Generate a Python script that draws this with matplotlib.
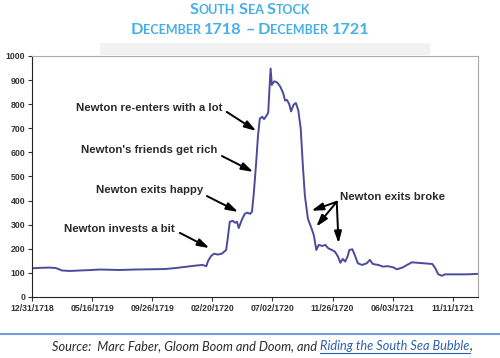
import matplotlib.pyplot as plt
from matplotlib.patches import Rectangle
from matplotlib.lines import Line2D

# x positions in tick intervals (0 = 12/31/1718, 1 = 05/16/1719, ...)
period = [
    0.00, 0.13, 0.30, 0.40, 0.50, 0.63, 0.80, 0.98, 1.13, 1.30,
    1.46, 1.71, 1.96, 2.21, 2.38, 2.55, 2.71, 2.83, 2.90, 2.93,
    2.98, 3.03, 3.09, 3.16, 3.23, 3.26, 3.29, 3.34, 3.38, 3.41,
    3.44, 3.49, 3.54, 3.58, 3.63, 3.66, 3.69, 3.73, 3.76, 3.79,
    3.83, 3.86, 3.89, 3.93, 3.95, 3.97, 3.99, 4.03, 4.08, 4.13,
    4.18, 4.21, 4.24, 4.28, 4.31, 4.35, 4.39, 4.43, 4.47, 4.51,
    4.54, 4.59, 4.65, 4.69, 4.73, 4.77, 4.83, 4.88, 4.93, 4.99,
    5.04, 5.09, 5.13, 5.17, 5.21, 5.25, 5.28, 5.33, 5.37, 5.42,
    5.49, 5.57, 5.62, 5.67, 5.76, 5.84, 5.92, 6.01, 6.07, 6.16,
    6.24, 6.32, 6.41, 6.51, 6.66, 6.71, 6.76, 6.82, 6.87, 7.07,
    7.24, 7.42,
]
price = [
    119, 121, 122, 120, 110, 108, 110, 112, 114, 113,
    112, 114, 115, 116, 120, 125, 130, 133, 128, 150,
    170, 180, 176, 180, 195, 250, 312, 316, 308, 312,
    286, 320, 345, 350, 345, 354, 430, 560, 670, 740,
    748, 738, 748, 765, 860, 948, 880, 895, 890, 873,
    845, 815, 818, 800, 770, 797, 805, 775, 700, 530,
    420, 325, 285, 255, 195, 216, 212, 216, 202, 195,
    188, 168, 142, 158, 147, 168, 195, 198, 174, 140,
    133, 140, 154, 137, 133, 126, 128, 123, 115, 122,
    133, 144, 142, 140, 137, 119, 94, 88, 94, 94,
    94, 96,
]

tick_labels = [
    "12/31/1718", "05/16/1719", "09/26/1719", "02/20/1720",
    "07/02/1720", "11/26/1720", "06/03/1721", "11/11/1721",
]

# (text, text position, arrow tail, arrow heads)
notes = [
    ("Newton re-enters with a lot", (1.95, 784), (3.24, 768), [(3.73, 689)]),
    ("Newton's friends get rich", (1.955, 610), (3.16, 585), [(3.68, 519)]),
    ("Newton exits happy", (1.96, 444), (2.91, 419), [(3.43, 353)]),
    ("Newton invests a bit", (1.46, 282), (2.46, 266), [(2.95, 203)]),
]
broke_text = "Newton exits broke"
broke_pos = (5.12, 415)
broke_tail = (5.07, 395)
broke_heads = [(4.65, 358), (4.73, 292), (5.10, 223)]

title_blue = "#46aeea"
line_color = "#4b4b9e"

fig = plt.figure(figsize=(5, 3.58), dpi=100)
ax = fig.add_axes([0.064, 0.1704, 0.892, 0.6732])

# light band above the plot (from the original screenshot)
fig.add_artist(Rectangle((0.2, 0.845), 0.66, 0.035, transform=fig.transFigure,
                         facecolor="#f2f2f2", edgecolor="none", zorder=-1))

ax.plot(period, price, color=line_color, linewidth=1.4)

ax.set_xlim(0, 7.42)
ax.set_ylim(0, 1000)
ax.set_xticks(range(len(tick_labels)))
ax.set_xticklabels(tick_labels)
ax.set_yticks(range(0, 1001, 100))

for lab in ax.get_xticklabels() + ax.get_yticklabels():
    lab.set_fontfamily("Liberation Sans")
    lab.set_fontweight("bold")
    lab.set_fontsize(6.3)
    lab.set_color("#333333")

ax.tick_params(axis="both", length=3, width=0.8, color="#333333", pad=2)
ax.spines["left"].set_color("#222222")
ax.spines["bottom"].set_color("#222222")
ax.spines["top"].set_color("#aaaaaa")
ax.spines["right"].set_color("#aaaaaa")

note_style = dict(fontfamily="Liberation Sans", fontweight="bold",
                  fontsize=8.2, color="#2a2a2a")
arrow_style = dict(arrowstyle="-|>,head_length=0.7,head_width=0.22",
                   color="black", lw=1.4, mutation_scale=10,
                   shrinkA=0, shrinkB=0)

for text, pos, tail, heads in notes:
    ax.text(pos[0], pos[1], text, ha="center", va="center", **note_style)
    for head in heads:
        ax.annotate("", xy=head, xytext=tail, arrowprops=arrow_style)

ax.text(broke_pos[0], broke_pos[1], broke_text, ha="left", va="center",
        **note_style)
for head in broke_heads:
    ax.annotate("", xy=head, xytext=broke_tail, arrowprops=arrow_style)

# title with small caps built from pieces
renderer = fig.canvas.get_renderer()
fig_w = fig.get_figwidth() * fig.dpi


def place_runs(runs, y, center=None, left=None):
    texts = []
    widths = []
    for s, kw in runs:
        t = fig.text(0, y, s, ha="left", va="baseline", **kw)
        bb = t.get_window_extent(renderer)
        texts.append(t)
        widths.append(bb.width / fig_w)
    total = sum(widths)
    x = center - total / 2 if center is not None else left
    out = []
    for t, w in zip(texts, widths):
        t.set_x(x)
        out.append((x, x + w))
        x += w
    return out


big = dict(fontfamily="Lato", fontweight="bold", fontsize=11.8, color=title_blue)
small = dict(fontfamily="Lato", fontweight="bold", fontsize=9.0, color=title_blue)
gap = dict(fontfamily="Lato", fontweight="bold", fontsize=6, color="none")


def small_caps(phrase):
    runs = []
    for i, word in enumerate(phrase.split(" ")):
        if i:
            runs.append(("\u2009|", gap))
        if word[0].isalpha():
            runs.append((word[0], big))
            if len(word) > 1:
                runs.append((word[1:].upper(), small))
        else:
            runs.append((word, big))
    return runs


place_runs(small_caps("South Sea Stock"), 0.962, center=0.5)
place_runs(small_caps("December 1718 \u2013 December 1721"), 0.905, center=0.5)

# footer
fig.add_artist(Line2D([0, 1], [0.068, 0.068], transform=fig.transFigure,
                      color="#6f9fd6", linewidth=1.5))

src = dict(fontfamily="Lato", fontstyle="italic", fontsize=9.2, color="#2b2b2b")
link = dict(fontfamily="Lato", fontstyle="italic", fontsize=9.2, color="#2e5fb5")
spans = place_runs([
    ("Source:  Marc Faber, Gloom Boom and Doom, and", src),
    ("\u2009|", dict(src, fontsize=6.2, color="none")),
    ("Riding the South Sea Bubble", link),
    (",", src),
], 0.022, left=0.104)
x0, x1 = spans[2]
fig.add_artist(Line2D([x0, x1], [0.014, 0.014], transform=fig.transFigure,
                      color="#2e5fb5", linewidth=0.8))

fig.savefig("out.png", dpi=100)
plt.close()
